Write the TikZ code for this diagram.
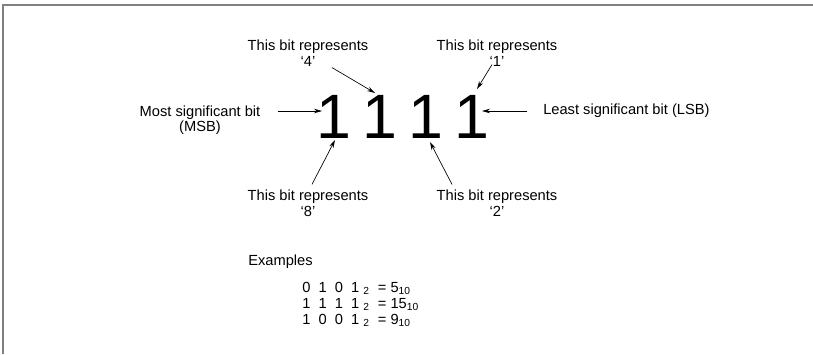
\documentclass[tikz,border=0pt]{standalone}
\usepackage{fontspec}
\setmainfont{Liberation Sans}
\usepackage{tikz}
\usetikzlibrary{arrows.meta,positioning,calc}
\definecolor{framegray}{RGB}{128,128,128}
\tikzset{
  bitlabel/.style={font=\fontsize{11}{12}\selectfont,align=center,inner sep=0pt},
  bitdigit/.style={font=\fontsize{47}{47}\selectfont,inner sep=0pt,anchor=base},
  bitarrow/.style={-{Stealth[length=6pt,width=3.4pt]},line width=0.5pt}
}
\newcommand{\bitnote}[3]{\node[bitlabel] (#1) at #2 {This bit represents\\`#3'};}

\begin{document}
\begin{tikzpicture}[x=0.75pt,y=-0.75pt]
\useasboundingbox (0,0) rectangle (813,354);
\draw[framegray,line width=1.1pt] (3,354) -- (3,5) -- (813,5);
\node[bitdigit] (d8) at (334,138) {1};
\node[bitdigit] (d4) at (380,138) {1};
\node[bitdigit] (d2) at (426,138) {1};
\node[bitdigit] (d1) at (472,138) {1};
\bitnote{n4}{(308,53)}{4}
\bitnote{n1}{(497,53)}{1}
\bitnote{n8}{(308,203)}{8}
\bitnote{n2}{(497,203)}{2}
\node[bitlabel,font=\fontsize{11}{9.4}\selectfont] (msb) at (200,120) {Most significant bit\\(MSB)};
\node[bitlabel,anchor=west] (lsb) at (543,111) {Least significant bit (LSB)};
\coordinate (t4) at (375,93);
\coordinate (t1) at (477,89);
\coordinate (t8) at (335,140);
\coordinate (t2) at (430,142);
\coordinate (tm) at (322,111);
\coordinate (tl) at (482,111);
\draw[bitarrow] ($(n4.south)+(24,1)$) -- (t4);
\draw[bitarrow] ($(n1.south)+(-5,-2)$) -- (t1);
\draw[bitarrow] ($(n8.north)+(4,-5)$) -- (t8);
\draw[bitarrow] ($(n2.north)+(-45,-5)$) -- (t2);
\draw[bitarrow] ($(msb.east)+(17,-9)$) -- (tm);
\draw[bitarrow] ($(lsb.west)+(-16,0)$) -- (tl);
\node[bitlabel,anchor=base west] (ex) at (248,265) {Examples};
\node[bitlabel,anchor=base west,align=left,font=\fontsize{11}{12}\selectfont] (rows) at (302,324)
  {0\ \ 1\ \ 0\ \ 1\ \textsubscript{2}\ \ = 5\textsubscript{10}\\
   1\ \ 1\ \ 1\ \ 1\ \textsubscript{2}\ \ = 15\textsubscript{10}\\
   1\ \ 0\ \ 0\ \ 1\ \textsubscript{2}\ \ = 9\textsubscript{10}};
\end{tikzpicture}
\end{document}
